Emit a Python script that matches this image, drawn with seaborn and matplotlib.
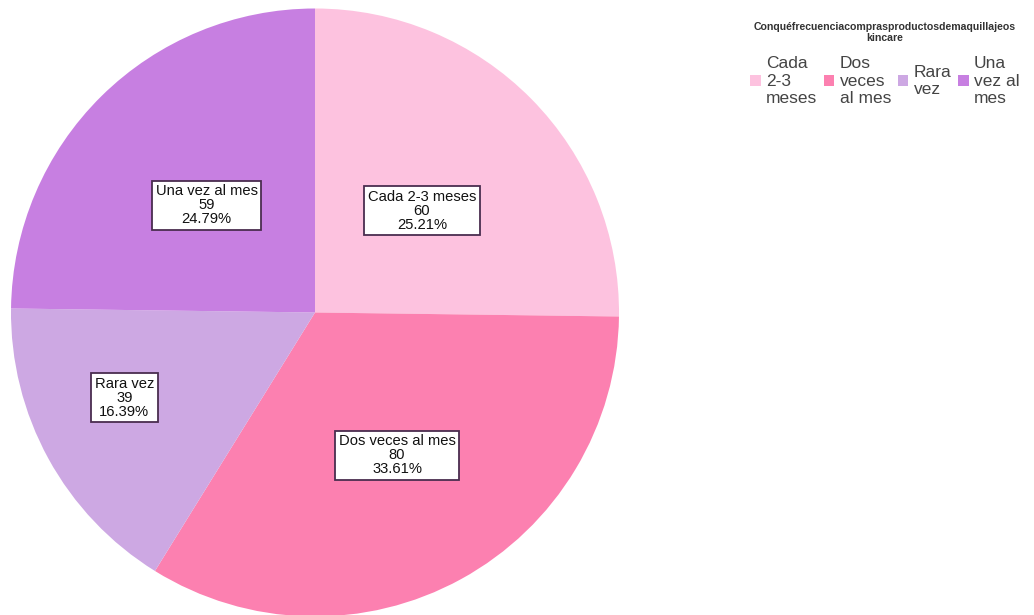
import matplotlib
matplotlib.use("Agg")
import matplotlib.pyplot as plt
import matplotlib.patches as mpatches
import seaborn as sns
import numpy as np

# Frequency of buying make-up / skincare products
categories = ["Cada 2-3 meses", "Dos veces al mes", "Rara vez", "Una vez al mes"]
legend_labels = ["Cada\n2-3\nmeses", "Dos\nveces\nal mes", "Rara\nvez", "Una\nvez al\nmes"]
counts = [60, 80, 39, 59]
colors = ["#FDC2DF", "#FC80B0", "#CDA8E3", "#C77FE1"]
legend_title = "Conquéfrecuenciacomprasproductosdemaquillajeos\nkincare"

sns.set_theme(style="white")
plt.rcParams["font.family"] = ["Liberation Sans", "DejaVu Sans"]

W, H = 1034, 615
fig = plt.figure(figsize=(W / 100, H / 100), dpi=100)
fig.patch.set_facecolor("white")

# pie axes: centre ~ (315, 312) px, radius ~304 px
cx, cy, r = 315, 312.5, 304
ax = fig.add_axes([(cx - r) / W, (H - cy - r) / H, 2 * r / W, 2 * r / H])
wedges, _ = ax.pie(counts, colors=colors, startangle=90, counterclock=False,
                   radius=1.0, wedgeprops=dict(linewidth=0))
ax.set_xlim(-1, 1)
ax.set_ylim(-1, 1)
ax.set_aspect("equal")
ax.axis("off")

# label placement inside each slice (fraction of radius)
label_xy = [(0.352, 0.335), (0.270, -0.470), (-0.627, -0.280), (-0.356, 0.352)]
total = sum(counts)
for name, n, (lx, ly) in zip(categories, counts, label_xy):
    pct = 100.0 * n / total
    ax.text(lx, ly, f"{name}\n{n}\n{pct:.2f}%", ha="center", va="center",
            fontsize=10.6, linespacing=1.0, color="#111111",
            bbox=dict(boxstyle="square,pad=0.25", facecolor="white",
                      edgecolor="#4a2d4f", linewidth=1.3))

handles = [mpatches.Patch(facecolor=c, edgecolor="none") for c in colors]
leg = fig.legend(handles, legend_labels, loc="upper left",
                 bbox_to_anchor=(738 / W, 1 - 10 / H), ncol=4, frameon=False,
                 fontsize=12.5, title=legend_title + "\n",
                 title_fontproperties={"size": 7.6, "weight": "bold"},
                 handlelength=0.6, handleheight=0.6, handletextpad=0.3,
                 columnspacing=0.4, labelspacing=0.2, borderpad=0.2)
for t in leg.get_texts():
    t.set_color("#444444")
    t.set_linespacing(1.18)
leg.get_title().set_color("#333333")
leg.get_title().set_multialignment("center")
leg.get_title().set_linespacing(1.05)

fig.savefig("out.png", dpi=100, facecolor="white")
